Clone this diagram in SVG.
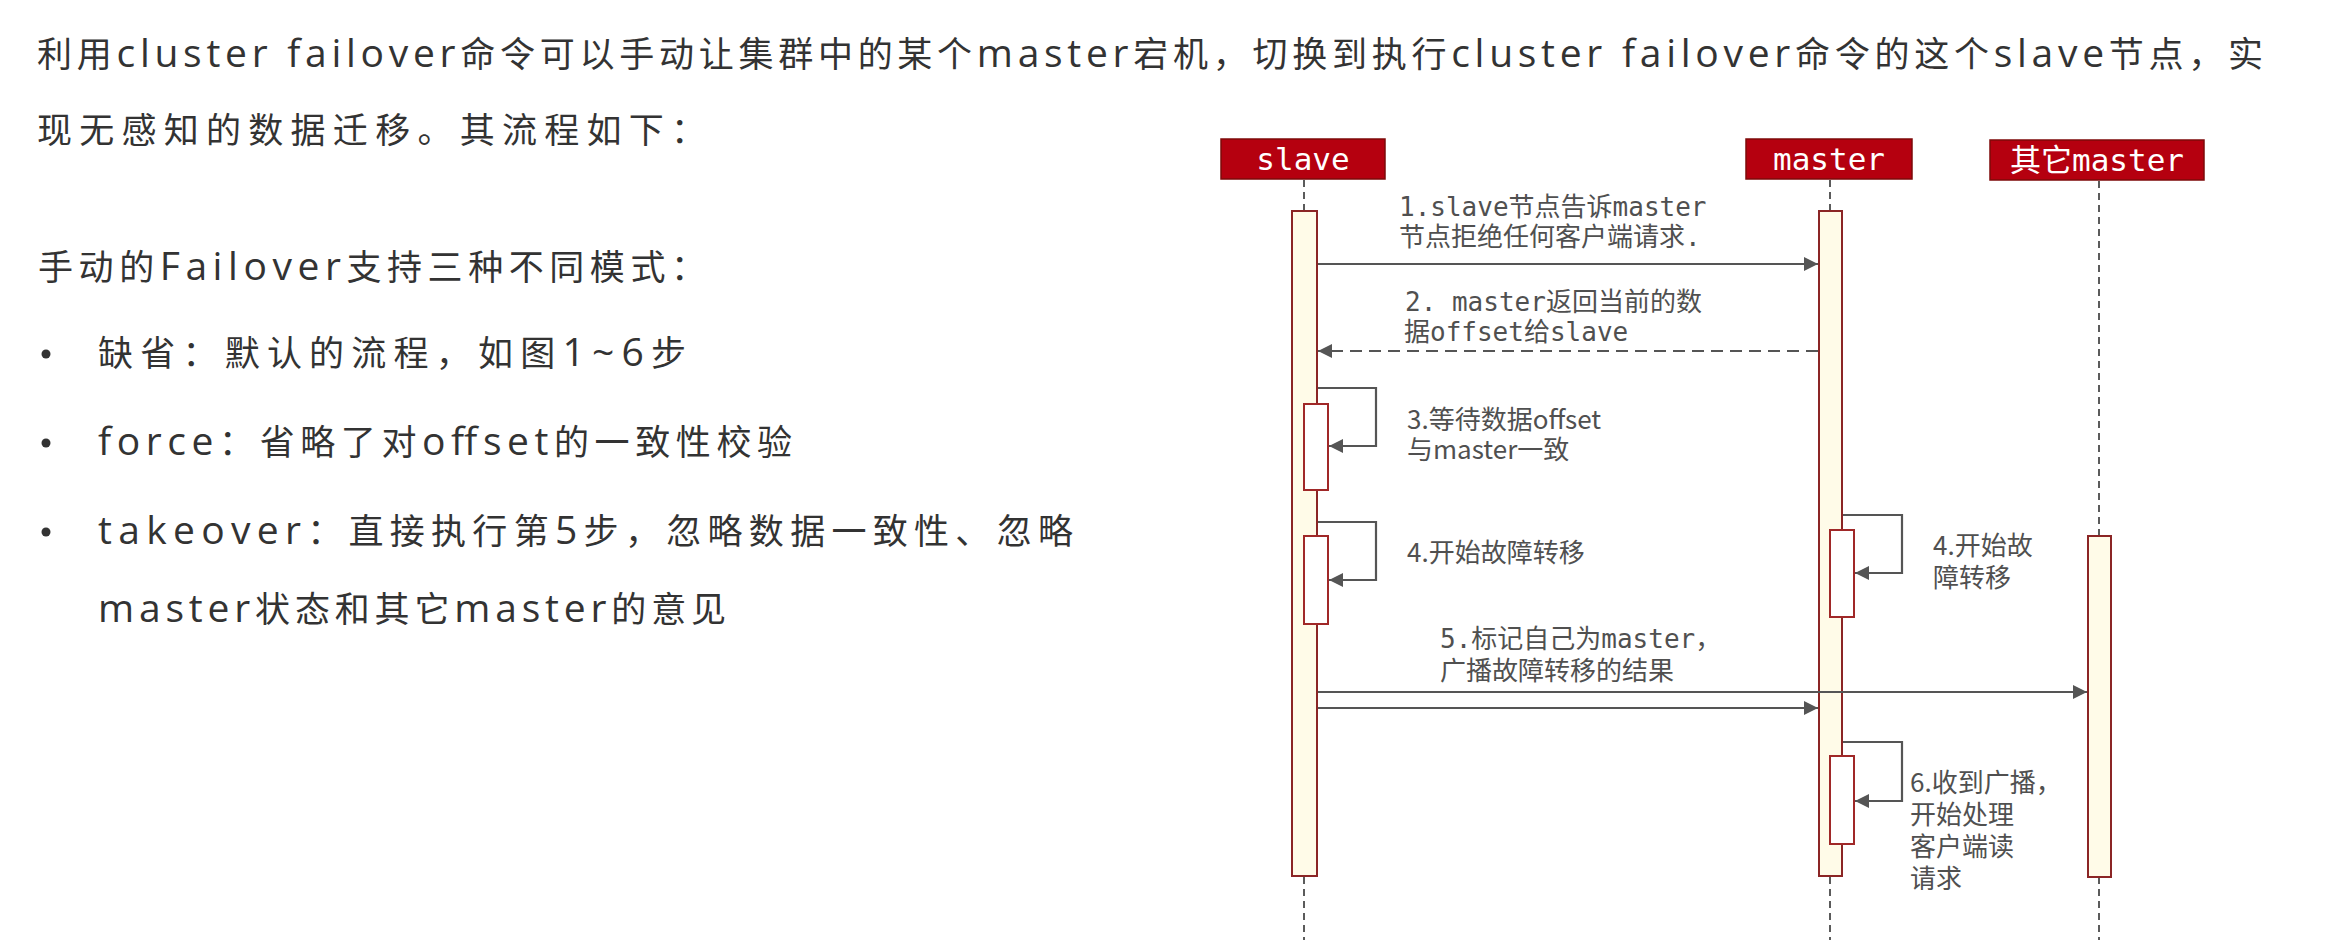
<svg xmlns="http://www.w3.org/2000/svg" width="2341" height="940" viewBox="0 0 2341 940">
<style>
.body{font-family:"Open Sans","Noto Sans CJK SC",sans-serif;font-size:35px;fill:#333}
.lat{font-size:39px}
.dot{fill:#333}
.hdr{fill:#B5000F;stroke:#7d0a0a;stroke-width:1.5}
.hdrt{font-family:"DejaVu Sans Mono","Noto Sans CJK SC",monospace;font-size:31px;fill:#fff;text-anchor:middle}
.life{stroke:#333;stroke-width:1.6;stroke-dasharray:7 5;fill:none}
.bar{fill:#FFFBE8;stroke:#8B2525;stroke-width:2}
.sbar{fill:#FFFFFF;stroke:#A02828;stroke-width:2}
.msg{stroke:#555;stroke-width:2.2;fill:none}
.dash{stroke-dasharray:12 7}
.mono{font-family:"DejaVu Sans Mono","Noto Sans CJK SC",monospace;font-size:26px;fill:#505050}
.sans{font-family:"Noto Sans CJK SC","Noto Sans",sans-serif;font-size:26px;fill:#505050}
</style>
<defs>
<marker id="ah" viewBox="0 0 14 14" refX="14" refY="7" markerWidth="14" markerHeight="14" markerUnits="userSpaceOnUse" orient="auto">
<path d="M0,0 L14,7 L0,14 z" fill="#555"/>
</marker>
</defs>
<rect width="2341" height="940" fill="#fff"/>

<g id="intro">
<text class="body" x="37" y="67" textLength="2226" lengthAdjust="spacing">利用<tspan class="lat">cluster failover</tspan>命令可以手动让集群中的某个<tspan class="lat">master</tspan>宕机，切换到执行<tspan class="lat">cluster failover</tspan>命令的这个<tspan class="lat">slave</tspan>节点，实</text>
<text class="body" x="37" y="143" textLength="669" lengthAdjust="spacing">现无感知的数据迁移。其流程如下：</text>
<text class="body" x="38" y="280" textLength="668" lengthAdjust="spacing">手动的<tspan class="lat">Failover</tspan>支持三种不同模式：</text>
<circle class="dot" cx="46" cy="354" r="4.5"/>
<text class="body" x="98" y="366" textLength="588" lengthAdjust="spacing">缺省：默认的流程，如图<tspan class="lat">1~6</tspan>步</text>
<circle class="dot" cx="46" cy="443" r="4.5"/>
<text class="body" x="98" y="455" textLength="694" lengthAdjust="spacing"><tspan class="lat">force</tspan>：省略了对<tspan class="lat">offset</tspan>的一致性校验</text>
<circle class="dot" cx="46" cy="532" r="4.5"/>
<text class="body" x="98" y="544" textLength="975" lengthAdjust="spacing"><tspan class="lat">takeover</tspan>：直接执行第<tspan class="lat">5</tspan>步，忽略数据一致性、忽略</text>
<text class="body" x="98" y="622" textLength="628" lengthAdjust="spacing"><tspan class="lat">master</tspan>状态和其它<tspan class="lat">master</tspan>的意见</text>
</g>

<g id="node-slave">
<rect class="hdr" x="1221" y="139" width="164" height="40"/>
<text class="hdrt" x="1303" y="170">slave</text>
<line class="life" x1="1304" y1="180" x2="1304" y2="211"/>
<line class="life" x1="1304" y1="877" x2="1304" y2="940"/>
<rect class="bar" x="1292" y="211" width="25" height="665"/>
<rect class="sbar" x="1304" y="404" width="24" height="86"/>
<rect class="sbar" x="1304" y="536" width="24" height="88"/>
</g>

<g id="node-master">
<rect class="hdr" x="1746" y="139" width="166" height="40"/>
<text class="hdrt" x="1829" y="170">master</text>
<line class="life" x1="1830" y1="180" x2="1830" y2="211"/>
<line class="life" x1="1830" y1="877" x2="1830" y2="940"/>
<rect class="bar" x="1819" y="211" width="23" height="665"/>
<rect class="sbar" x="1830" y="530" width="24" height="87"/>
<rect class="sbar" x="1830" y="756" width="24" height="88"/>
</g>

<g id="node-other-master">
<rect class="hdr" x="1990" y="140" width="214" height="40"/>
<text class="hdrt" x="2097" y="171">其它master</text>
<line class="life" x1="2099" y1="181" x2="2099" y2="536"/>
<line class="life" x1="2099" y1="877" x2="2099" y2="940"/>
<rect class="bar" x="2088" y="536" width="23" height="341"/>
</g>

<g id="connectors">
<line class="msg" x1="1318" y1="264" x2="1818" y2="264" marker-end="url(#ah)"/>
<line class="msg dash" x1="1818" y1="351" x2="1318" y2="351" marker-end="url(#ah)"/>
<polyline class="msg" points="1318,388 1376,388 1376,446 1329,446" marker-end="url(#ah)"/>
<polyline class="msg" points="1318,522 1376,522 1376,580 1329,580" marker-end="url(#ah)"/>
<polyline class="msg" points="1843,515 1902,515 1902,573 1855,573" marker-end="url(#ah)"/>
<line class="msg" x1="1318" y1="692" x2="2087" y2="692" marker-end="url(#ah)"/>
<line class="msg" x1="1318" y1="708" x2="1818" y2="708" marker-end="url(#ah)"/>
<polyline class="msg" points="1843,742 1902,742 1902,801 1855,801" marker-end="url(#ah)"/>
</g>

<g id="labels">
<text class="mono" x="1399" y="216">1.slave节点告诉master</text>
<text class="mono" x="1399" y="246">节点拒绝任何客户端请求.</text>
<text class="mono" x="1405" y="311">2. master返回当前的数</text>
<text class="mono" x="1404" y="341">据offset给slave</text>
<text class="sans" x="1407" y="429">3.等待数据offset</text>
<text class="sans" x="1407" y="459">与master一致</text>
<text class="sans" x="1407" y="562">4.开始故障转移</text>
<text class="sans" x="1933" y="555">4.开始故</text>
<text class="sans" x="1933" y="587">障转移</text>
<text class="mono" x="1440" y="648">5.标记自己为master，</text>
<text class="mono" x="1440" y="680">广播故障转移的结果</text>
<text class="sans" x="1910" y="792">6.收到广播，</text>
<text class="sans" x="1910" y="824">开始处理</text>
<text class="sans" x="1910" y="856">客户端读</text>
<text class="sans" x="1910" y="888">请求</text>
</g>
</svg>
